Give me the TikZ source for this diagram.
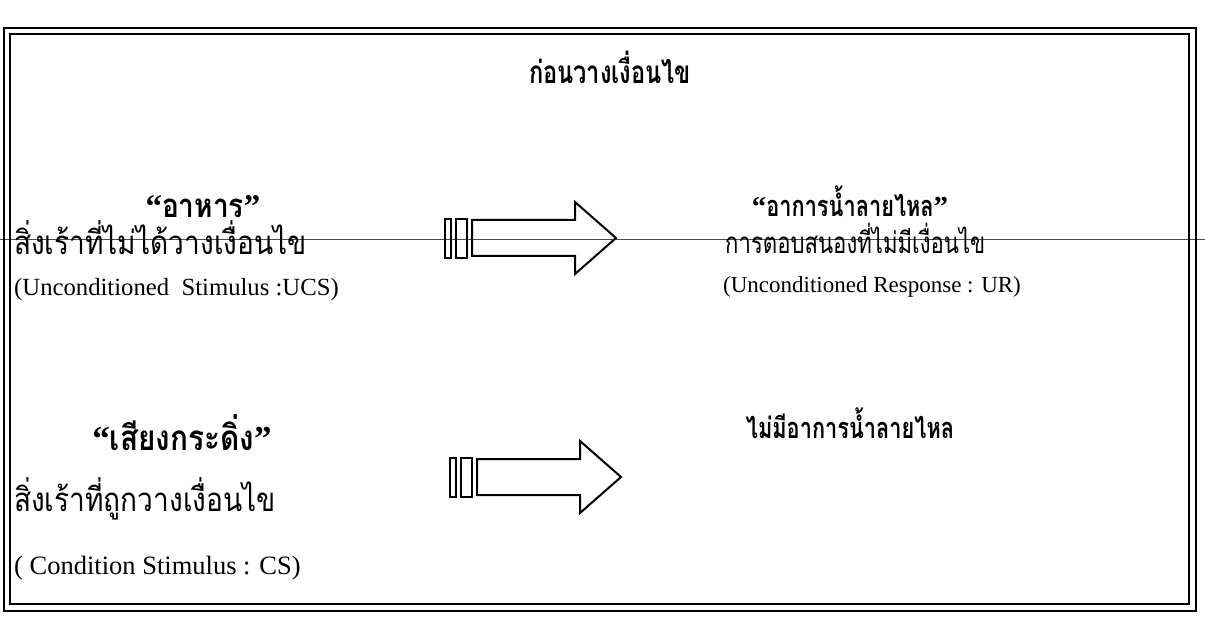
\documentclass[tikz,border=0pt]{standalone}
\usepackage{fontspec}
\setmainfont{Liberation Serif}
\newfontfamily\thaifont[Script=Thai, FakeStretch=0.85]{Loma}
\newfontfamily\thaicond[Script=Thai, FakeStretch=0.75]{Loma}
\newcommand\oq{{\normalfont\bfseries “}}
\newcommand\cq{{\normalfont\bfseries ”}}
\newcommand\thsize[1]{\fontsize{#1}{#1}\selectfont}
\begin{document}
\begin{tikzpicture}[x=1pt,y=-1pt,
  txt/.style={inner sep=0pt, font=\fontsize{24.7}{28}\selectfont},
  th/.style={inner sep=0pt, font=\thaifont\thsize{#1}},
  thb/.style={inner sep=0pt, font=\thaifont\bfseries\thsize{#1}},
  thc/.style={inner sep=0pt, font=\thaicond\thsize{#1}},
  thcb/.style={inner sep=0pt, font=\thaicond\bfseries\thsize{#1}},
  arrowline/.style={line width=2pt, line join=miter},
  scanline/.style={line width=0.6pt, black!70},
  blockarrow/.pic={
    \draw[arrowline] (0,-19) rectangle (6,20);
    \draw[arrowline] (11,-19) rectangle (22,20);
    \draw[arrowline] (27,-18) -- (130,-18) -- (130,-36) -- (171,0) -- (130,36) -- (130,18) -- (27,18) -- cycle;
  }]
\useasboundingbox (0,0) rectangle (1205,620);
\draw[scanline] (0,239) -- (1205,239);
\draw[line width=2pt] (4,28) rectangle (1196,611);
\draw[line width=2.6pt] (10,34) rectangle (1189,604);

\node[thcb=31.5] (title) at (610,67) {ก่อนวางเงื่อนไข};

\node[thb=33] (food) at (203,207) {\oq อาหาร\cq};
\node[th=33, anchor=west] (ucsth) at (14,238) {สิ่งเร้าที่ไม่ได้วางเงื่อนไข};
\node[txt, anchor=west] (ucsen) at (14,290) {(Unconditioned\ \ Stimulus :UCS)};

\pic (arrowA) at (445,238) {blockarrow};

\node[thcb=29] (saliva) at (850,201) {\oq อาการน้ำลายไหล\cq};
\node[thc=29.5, anchor=west] (urth) at (725,238) {การตอบสนองที่ไม่มีเงื่อนไข};
\node[txt, font=\fontsize{23}{26}\selectfont, anchor=west] (uren) at (723,287) {(Unconditioned Response : UR)};

\node[thb=35] (bell) at (182,433) {\oq เสียงกระดิ่ง\cq};
\node[th=33, anchor=west] (csth) at (14,499) {สิ่งเร้าที่ถูกวางเงื่อนไข};
\node[txt, font=\fontsize{26.5}{30}\selectfont, anchor=west] (csen) at (14,568) {( Condition Stimulus : CS)};

\pic (arrowB) at (450,477) {blockarrow};

\node[thcb=29] (nosaliva) at (850,423) {ไม่มีอาการน้ำลายไหล};
\end{tikzpicture}
\end{document}
